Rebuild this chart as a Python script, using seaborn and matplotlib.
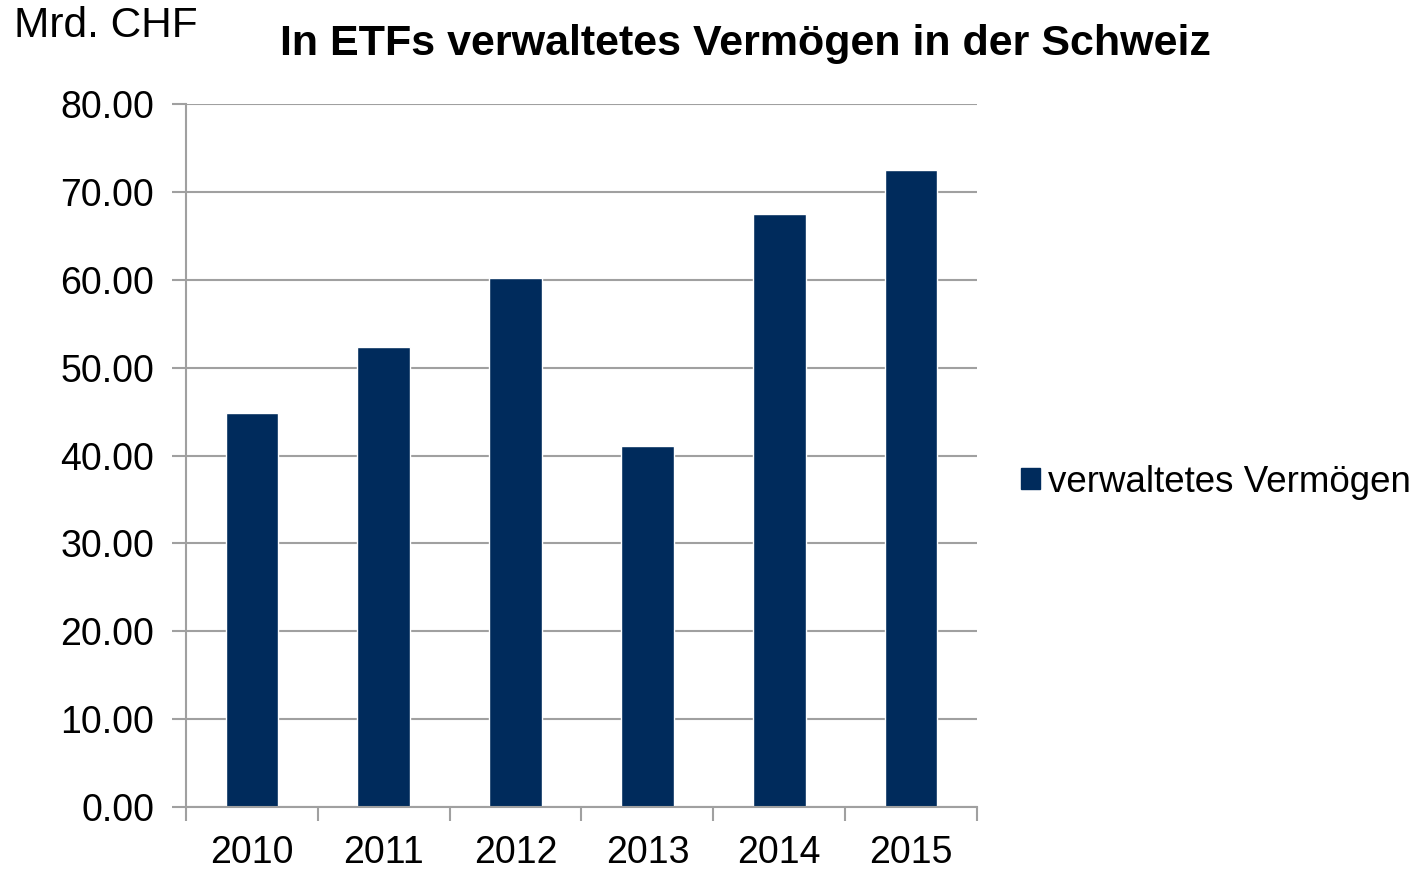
import pandas as pd
import seaborn as sns
import matplotlib.pyplot as plt
from matplotlib.patches import Patch

# Verwaltetes Vermögen in ETFs, Schweiz (Mrd. CHF)
years = ["2010", "2011", "2012", "2013", "2014", "2015"]
assets = [44.8, 52.3, 60.2, 41.1, 67.5, 72.5]

BAR_COLOR = "#002B5C"
GRID_COLOR = "#A0A0A0"

df = pd.DataFrame({"Jahr": years, "Vermoegen": assets})

sns.set_theme(style="white")
plt.rcParams["font.family"] = ["Liberation Sans", "DejaVu Sans"]
plt.rcParams["text.color"] = "black"
plt.rcParams["xtick.labelcolor"] = "black"
plt.rcParams["ytick.labelcolor"] = "black"

fig = plt.figure(figsize=(14.26, 8.69), dpi=100)
ax = fig.add_axes([186 / 1426, 1 - 807 / 869, (977 - 186) / 1426, (807 - 104) / 869])

sns.barplot(data=df, x="Jahr", y="Vermoegen", color=BAR_COLOR, width=0.4,
            saturation=1, ax=ax)

ax.set_ylim(0, 80)
ax.set_xlim(-0.5, len(years) - 0.5)
ax.set_yticks(range(0, 81, 10))
ax.set_yticklabels([f"{v:.2f}" for v in range(0, 81, 10)])
ax.set_xlabel("")
ax.set_ylabel("")

# Gitternetz
ax.yaxis.grid(True, color=GRID_COLOR, linewidth=1.5)
ax.xaxis.grid(False)
ax.set_axisbelow(True)

for side in ["top", "right"]:
    ax.spines[side].set_visible(False)
for side in ["left", "bottom"]:
    ax.spines[side].set_color(GRID_COLOR)
    ax.spines[side].set_linewidth(1.5)

# x-Ticks an den Kategoriegrenzen
ax.set_xticks([i - 0.5 for i in range(len(years) + 1)], minor=False)
ax.set_xticklabels([])
ax.set_xticks(range(len(years)), minor=True)
ax.set_xticklabels(years, minor=True)
ax.tick_params(axis="x", which="major", length=10, width=1.5, color=GRID_COLOR,
               direction="out", bottom=True)
ax.tick_params(axis="x", which="minor", length=0, labelsize=27, pad=20,
               labelcolor="black")
ax.tick_params(axis="y", length=10, width=1.5, color=GRID_COLOR, direction="out",
               left=True, labelsize=27, pad=13, labelcolor="black")

fig.text(14 / 1426, 1 - 26 / 869, "Mrd. CHF", fontsize=30.5, ha="left",
         va="center", color="black")
fig.text(745 / 1426, 1 - 44 / 869, "In ETFs verwaltetes Vermögen in der Schweiz",
         fontsize=31, fontweight="bold", ha="center", va="center", color="black")

handle = Patch(facecolor=BAR_COLOR, edgecolor=BAR_COLOR, label="verwaltetes Vermögen")
leg = fig.legend(handles=[handle], loc="center left",
                 bbox_to_anchor=(988 / 1426, 1 - 482 / 869), frameon=False,
                 fontsize=26.5, handlelength=0.5, handleheight=0.5,
                 handletextpad=0.22)
for t in leg.get_texts():
    t.set_color("black")

fig.savefig("out.png", dpi=100)
